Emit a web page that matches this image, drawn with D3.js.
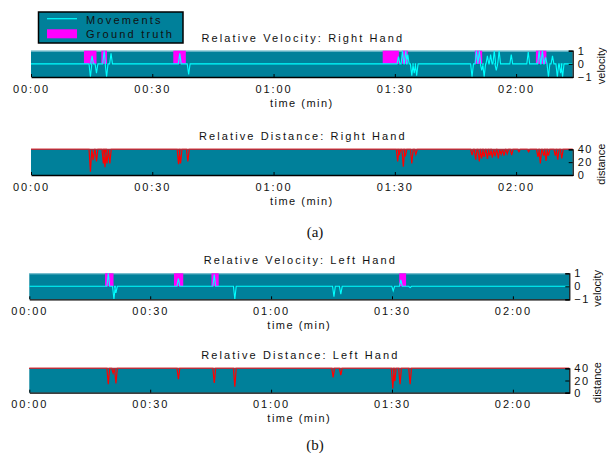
<!DOCTYPE html>
<html>
<head>
<meta charset="utf-8">
<script src="https://cdn.jsdelivr.net/npm/d3@7"></script>
<style>
  body { margin: 0; background: #fff; }
  text { font-family: "Liberation Sans", Arial, sans-serif; fill: #111; }
</style>
</head>
<body>
<svg id="chart" width="607" height="453"></svg>
<script>
// time axis (seconds)
let tDomain = [0, 134]
let tTicks = [0, 30, 60, 90, 120]

// right hand: ground truth intervals [start, end] in seconds
let gtRight = [[13.1, 16.2], [17.4, 18.8], [35.2, 38.3], [87.0, 91.0], [91.8, 93.2],
  [109.8, 111.6], [124.9, 127.5]]
// right hand: movement spikes [time, velocity peak]
let velRight = [[14.7, -1], [15.1, 0.6], [16.2, -0.7], [18.1, 1], [18.7, -1], [19.8, 0.8],
  [36.8, 0.8], [39.0, -0.8],
  [90.9, 0.55], [91.9, 1], [92.7, 1], [93.2, 0.7], [94.2, -0.9], [94.8, -0.7], [95.4, -0.9],
  [109.1, -1], [110.2, 1], [110.9, 1], [111.5, -0.5], [112.1, -1], [112.9, 0.6], [113.7, 0.7],
  [114.6, 1], [115.1, -0.5], [115.8, 1], [118.8, 0.7], [123.0, 0.9],
  [125.7, 1], [126.5, 1], [127.3, 0.5], [128.0, -1], [129.0, 0.6], [130.2, -1], [131.0, -0.7], [131.5, -1]]
// right hand: distance dips [time, distance]
let distRight = [[14.7, 5], [15.4, 23], [16.2, 21], [17.9, 18], [18.3, 12], [18.8, 18], [19.5, 18],
  [36.5, 17], [37.0, 18], [38.8, 21],
  [90.7, 21], [91.1, 31], [92.1, 13], [92.6, 29], [94.2, 18], [95.2, 32],
  [109.1, 31], [110.0, 24], [110.9, 21], [111.5, 26], [112.1, 28], [112.9, 25], [113.5, 30],
  [114.1, 27], [114.8, 29], [115.6, 26], [116.3, 32], [117.0, 30], [117.8, 33], [118.9, 31],
  [120.7, 36], [123.1, 36], [125.4, 28], [126.0, 18], [126.8, 30], [127.4, 22], [128.0, 30],
  [129.7, 30], [130.3, 24], [131.3, 26]]

// left hand
let gtLeft = [[18.8, 20.9], [35.9, 38.2], [45.2, 47.0], [91.8, 93.5]]
let velLeft = [[19.6, 1], [21.0, -1], [21.5, -0.5], [37.0, 0.6], [45.9, 0.9], [51.0, -1],
  [75.6, -0.8], [77.3, -0.6], [90.3, -0.35], [92.2, 0.5], [94.5, -0.1]]
let distLeft = [[19.6, 14], [20.8, 32], [21.5, 15], [37.0, 22], [45.9, 16], [51.0, 10],
  [75.4, 25], [77.3, 29], [90.2, 7], [90.7, 19], [92.0, 14], [94.5, 14]]

const teal = "#00809a"
const spikeW = 0.35
const svg = d3.select("#chart")

let fmtTime = (t) => {
  let m = Math.floor(t / 60), s = t % 60
  return String(m).padStart(2, "0") + ":" + String(s).padStart(2, "0")
}

// build a polyline from a baseline value and a list of [t, peak] spikes
let spikePoints = (spikes, base) => {
  let pts = [[tDomain[0], base]]
  spikes.slice().sort((a, b) => a[0] - b[0]).forEach(([t, v]) => {
    pts.push([t - spikeW, base], [t, v], [t + spikeW, base])
  })
  pts.push([tDomain[1], base])
  return pts
}

let drawPanel = (p) => {
  const x = d3.scaleLinear().domain(tDomain).range([p.x0, p.x1])
  const y = d3.scaleLinear().domain(p.yDomain).range([p.bottom, p.top])
  const g = svg.append("g")

  g.append("rect").attr("x", p.x0).attr("y", p.top)
    .attr("width", p.x1 - p.x0).attr("height", p.bottom - p.top).attr("fill", teal)

  if (p.type === "vel") {
    g.append("line").attr("x1", p.x0).attr("x2", p.x1).attr("y1", p.top + 0.5).attr("y2", p.top + 0.5)
      .attr("stroke", "#8cc9d8").attr("stroke-width", 1)
    g.selectAll("rect.gt").data(p.gt).join("rect").attr("class", "gt")
      .attr("x", (d) => x(d[0])).attr("width", (d) => x(d[1]) - x(d[0]))
      .attr("y", y(1)).attr("height", y(0) - y(1)).attr("fill", "#ff00ff")
  }

  const line = d3.line().x((d) => x(d[0])).y((d) => y(d[1]))
  g.append("path").datum(spikePoints(p.spikes, p.base)).attr("d", line)
    .attr("fill", "none").attr("stroke", p.color).attr("stroke-width", p.type === "vel" ? 1.1 : 1.2)

  if (p.type === "dist") {
    g.append("line").attr("x1", p.x0).attr("x2", p.x1).attr("y1", p.top).attr("y2", p.top)
      .attr("stroke", "#b0303e").attr("stroke-width", 1.2)
  }

  // bottom axis, ticks inside
  const xAxis = d3.axisBottom(x).tickValues(tTicks).tickFormat(fmtTime)
    .tickSizeInner(-3).tickSizeOuter(0).tickPadding(8)
  const gx = g.append("g").attr("transform", `translate(0,${p.bottom})`).call(xAxis)
  gx.select(".domain").attr("stroke", "#000").attr("stroke-width", 1.3)
  gx.selectAll("text").attr("font-size", 11).style("letter-spacing", "1.9px").attr("fill", "#111")

  // right axis
  const yAxis = d3.axisRight(y).tickValues(p.yTicks).tickFormat(d3.format("d"))
    .tickSizeInner(-4).tickSizeOuter(-4).tickPadding(5)
  const gy = g.append("g").attr("transform", `translate(${p.x1},0)`).call(yAxis)
  gy.select(".domain").attr("stroke", "#000").attr("stroke-width", 1.2)
  gy.selectAll("text").attr("font-size", 11).style("letter-spacing", "1.5px").attr("fill", "#111")
  g.append("text").attr("transform", `translate(${p.x1 + 32},${(p.top + p.bottom) / 2 + 2}) rotate(-90)`)
    .attr("text-anchor", "middle").attr("font-size", 11).text(p.yLabel)

  g.append("text").attr("x", (p.x0 + p.x1) / 2 + 1).attr("y", p.top - 9)
    .attr("text-anchor", "middle").attr("font-size", 11).style("letter-spacing", "2.1px").text(p.title)
  g.append("text").attr("x", (p.x0 + p.x1) / 2).attr("y", p.bottom + 29.5)
    .attr("text-anchor", "middle").attr("font-size", 11).style("letter-spacing", "1.5px").text("time (min)")
}

drawPanel({ type: "vel", title: "Relative Velocity: Right Hand", x0: 31, x1: 572.7, top: 50.7, bottom: 77,
  yDomain: [-1, 1], yTicks: [-1, 0, 1], yLabel: "velocity", gt: gtRight, spikes: velRight, base: 0, color: "#00ffff" })
drawPanel({ type: "dist", title: "Relative Distance: Right Hand", x0: 31, x1: 572.7, top: 149.3, bottom: 175,
  yDomain: [0, 40], yTicks: [0, 20, 40], yLabel: "distance", spikes: distRight, base: 40, color: "#ff0000" })
drawPanel({ type: "vel", title: "Relative Velocity: Left Hand", x0: 29.3, x1: 569.3, top: 273.3, bottom: 299.3,
  yDomain: [-1, 1], yTicks: [-1, 0, 1], yLabel: "velocity", gt: gtLeft, spikes: velLeft, base: 0, color: "#00ffff" })
drawPanel({ type: "dist", title: "Relative Distance: Left Hand", x0: 29.3, x1: 569.3, top: 368.3, bottom: 392.7,
  yDomain: [0, 40], yTicks: [0, 20, 40], yLabel: "distance", spikes: distLeft, base: 40, color: "#ff0000" })

// sub captions
svg.append("text").attr("x", 315).attr("y", 236.5).attr("text-anchor", "middle")
  .style("font-family", "'Liberation Serif', 'Times New Roman', serif").attr("font-size", 15).text("(a)")
svg.append("text").attr("x", 315).attr("y", 450).attr("text-anchor", "middle")
  .style("font-family", "'Liberation Serif', 'Times New Roman', serif").attr("font-size", 15).text("(b)")

// legend
const lg = svg.append("g")
lg.append("rect").attr("x", 38.5).attr("y", 12).attr("width", 144.5).attr("height", 31)
  .attr("fill", teal).attr("stroke", "#000").attr("stroke-width", 1.5)
lg.append("line").attr("x1", 47).attr("x2", 77).attr("y1", 18.7).attr("y2", 18.7)
  .attr("stroke", "#00ffff").attr("stroke-width", 1.2)
lg.append("rect").attr("x", 47).attr("y", 29.3).attr("width", 30).attr("height", 9).attr("fill", "#ff00ff")
lg.append("text").attr("x", 86).attr("y", 24).attr("font-size", 11).style("letter-spacing", "2.2px").text("Movements")
lg.append("text").attr("x", 86).attr("y", 37.5).attr("font-size", 11).style("letter-spacing", "2.2px").text("Ground truth")
</script>
</body>
</html>
